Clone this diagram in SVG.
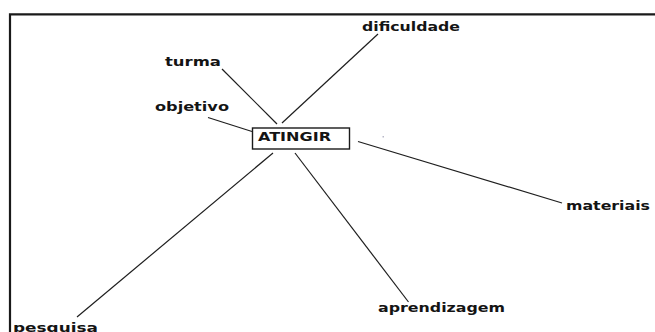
<svg xmlns="http://www.w3.org/2000/svg" width="655" height="332" viewBox="0 0 655 332">
<style>
.lbl{font-family:"DejaVu Sans","Verdana",sans-serif;font-weight:bold;font-size:12px;fill:#141414}
.edge{stroke:#1e1e1e;stroke-width:1.2;fill:none}
.frame{stroke:#1a1a1a;stroke-width:2.2;fill:none}
</style>
<rect width="655" height="332" fill="#ffffff"/>
<polyline class="frame" points="10,332 10,14.3 655,14.3"/>
<g id="connectors">
<line class="edge" x1="222" y1="69" x2="277" y2="124"/>
<line class="edge" x1="378" y1="34" x2="282" y2="123"/>
<line class="edge" x1="208" y1="117.5" x2="252" y2="131.5"/>
<line class="edge" x1="358" y1="141.5" x2="562" y2="203"/>
<line class="edge" x1="273" y1="153" x2="77" y2="317"/>
<line class="edge" x1="295" y1="153" x2="408.5" y2="302"/>
</g>
<g id="node-atingir">
<rect x="252.5" y="128" width="97" height="21" fill="#ffffff" stroke="#1a1a1a" stroke-width="1.4"/>
<text class="lbl" x="258" y="140.5" textLength="73" lengthAdjust="spacingAndGlyphs">ATINGIR</text>
</g>
<g id="node-dificuldade"><text class="lbl" x="362" y="31" textLength="98" lengthAdjust="spacingAndGlyphs">dificuldade</text></g>
<g id="node-turma"><text class="lbl" x="165" y="66" textLength="56" lengthAdjust="spacingAndGlyphs">turma</text></g>
<g id="node-objetivo"><text class="lbl" x="155" y="111" textLength="74" lengthAdjust="spacingAndGlyphs">objetivo</text></g>
<g id="node-materiais"><text class="lbl" x="566" y="209.5" textLength="84" lengthAdjust="spacingAndGlyphs">materiais</text></g>
<g id="node-aprendizagem"><text class="lbl" x="378" y="311.5" textLength="127" lengthAdjust="spacingAndGlyphs">aprendizagem</text></g>
<g id="node-pesquisa"><text class="lbl" x="13" y="332" textLength="85" lengthAdjust="spacingAndGlyphs">pesquisa</text></g>
<rect x="382.5" y="136" width="1.5" height="1.5" fill="#b8b8c8"/>
</svg>
